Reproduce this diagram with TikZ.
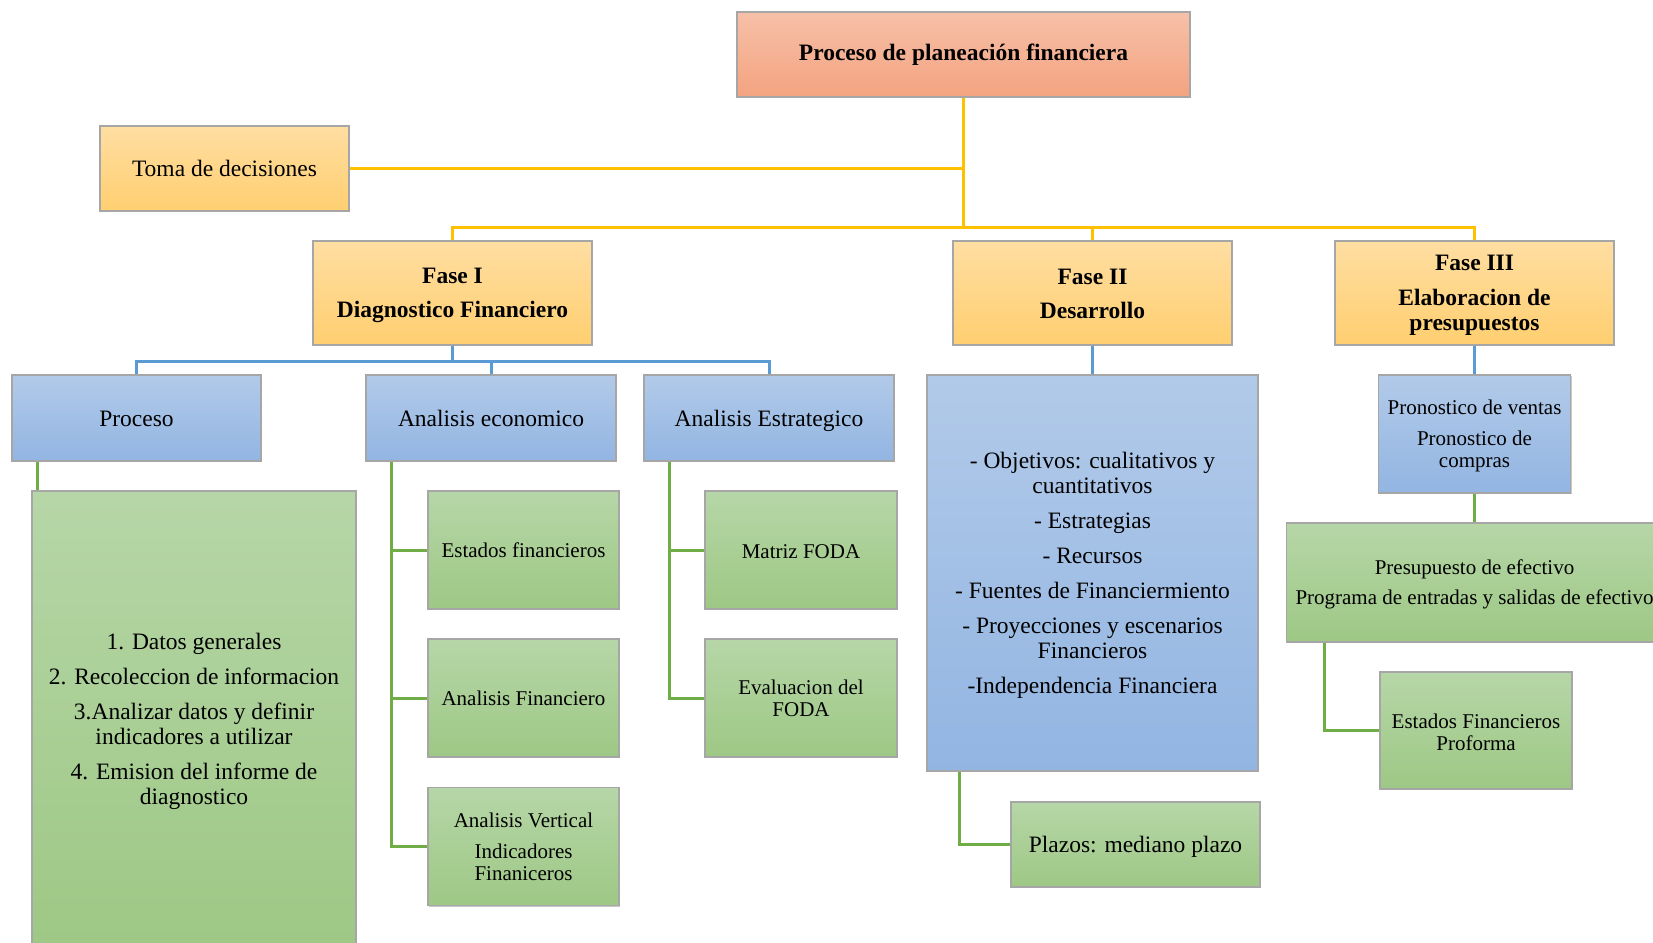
\documentclass[tikz,border=0pt]{standalone}
\usepackage{fontspec}
\setmainfont{Liberation Serif}
\usetikzlibrary{shadows}
\definecolor{ylTop}{RGB}{255,222,162}
\definecolor{ylBot}{RGB}{255,207,112}
\definecolor{orTop}{RGB}{246,192,168}
\definecolor{orBot}{RGB}{244,163,128}
\definecolor{buTop}{RGB}{178,202,233}
\definecolor{buBot}{RGB}{146,181,226}
\definecolor{grTop}{RGB}{182,214,167}
\definecolor{grBot}{RGB}{158,200,133}
\definecolor{lnYl}{RGB}{255,192,0}
\definecolor{lnBu}{RGB}{91,155,213}
\definecolor{lnGr}{RGB}{112,173,71}
\newcommand\lft[1]{\rule{0pt}{#1pt}}
\tikzset{
  box/.style={rectangle, draw=black!35, line width=1.3pt, inner sep=2pt, align=center,
    drop shadow={shadow xshift=1.2pt, shadow yshift=-1.2pt, opacity=0.3, fill=black!70}},
  orbox/.style={box, top color=orTop, bottom color=orBot},
  ylbox/.style={box, top color=ylTop, bottom color=ylBot},
  bubox/.style={box, top color=buTop, bottom color=buBot},
  grbox/.style={box, top color=grTop, bottom color=grBot},
  big/.style={font=\fontsize{23.5}{25}\selectfont},
  small/.style={font=\fontsize{21}{22}\selectfont},
  ylline/.style={draw=lnYl, line width=3pt},
  buline/.style={draw=lnBu, line width=3pt},
  grline/.style={draw=lnGr, line width=3pt},
}
\begin{document}
\begin{tikzpicture}[x=1pt,y=-1pt]
\clip (0,0) rectangle (1653,942);
\fill[white] (0,0) rectangle (1653,942);
\coordinate (busY) at (0,227);
\coordinate (busB) at (0,361);

\node[orbox, big, minimum width=453pt, minimum height=85pt] (top) at (963.5,54.5) {\textbf{Proceso de planeación financiera}};
\node[ylbox, big, minimum width=249pt, minimum height=85pt] (toma) at (224.5,168.5) {Toma de decisiones};

\node[ylbox, big, minimum width=279pt, minimum height=104pt] (f1) at (452.5,293) {\lft{21}\textbf{Fase I}\\[9pt]\textbf{Diagnostico Financiero}};
\node[ylbox, big, minimum width=279pt, minimum height=104pt] (f2) at (1092.5,293) {\lft{18}\textbf{Fase II}\\[9pt]\textbf{Desarrollo}};
\node[ylbox, big, minimum width=279pt, minimum height=104pt] (f3) at (1474.5,293) {\lft{20}\textbf{Fase III}\\[10pt]\textbf{Elaboracion de}\\\textbf{presupuestos}};

\node[bubox, big, minimum width=249pt, minimum height=86pt] (proc) at (136.5,418) {\lft{17.6}Proceso};
\node[bubox, big, minimum width=250pt, minimum height=86pt] (aecon) at (491,418) {Analisis economico};
\node[bubox, big, minimum width=250pt, minimum height=86pt] (aestr) at (769,418) {\lft{22}Analisis Estrategico};

\node[grbox, big, minimum width=324pt, minimum height=456pt] (pbox) at (194,719) {\lft{21}1. Datos generales\\[10pt]2. Recoleccion de informacion\\[10pt]3.Analizar datos y definir\\indicadores a utilizar\\[10pt]4. Emision del informe de\\diagnostico};

\node[grbox, small, minimum width=191pt, minimum height=118pt] (ef) at (523.5,550) {Estados financieros};
\node[grbox, small, minimum width=191pt, minimum height=118pt] (af) at (523.5,698) {Analisis Financiero};
\node[grbox, small, minimum width=191pt, minimum height=118pt] (av) at (523.5,846.5) {Analisis Vertical\\[9pt]Indicadores\\Finaniceros};

\node[grbox, small, minimum width=192pt, minimum height=118pt] (foda) at (801,550) {\lft{16.2}Matriz FODA};
\node[grbox, small, minimum width=192pt, minimum height=118pt] (evf) at (801,698) {Evaluacion del\\FODA};

\node[bubox, big, minimum width=331pt, minimum height=396pt] (f2box) at (1092.5,573) {\lft{20}- Objetivos: cualitativos y\\cuantitativos\\[10pt]- Estrategias\\[10pt]- Recursos\\[10pt]- Fuentes de Financiermiento\\[10pt]- Proyecciones y escenarios\\Financieros\\[10pt]-Independencia Financiera};
\node[grbox, big, minimum width=249pt, minimum height=85pt] (plazos) at (1135.5,844.5) {\lft{20}Plazos: mediano plazo};

\node[bubox, small, minimum width=192pt, minimum height=118pt] (pron) at (1474.5,434) {\lft{19.3}Pronostico de ventas\\[9pt]Pronostico de\\compras};
\node[grbox, small, minimum width=376pt, minimum height=119pt] (presup) at (1474.5,582.5) {\lft{19.3}Presupuesto de efectivo\\[8pt]Programa de entradas y salidas de efectivo};
\node[grbox, small, minimum width=192pt, minimum height=117pt] (efp) at (1476,730.5) {\lft{17.3}Estados Financieros\\Proforma};

% yellow connectors
\draw[ylline] (top.south) -- (top.south |- busY);
\draw[ylline] (toma.east) -- (toma.east -| top.south);
\draw[ylline] (f1.north) -- (f1.north |- busY) -- (f3.north |- busY) -- (f3.north);
\draw[ylline] (f2.north) -- (f2.north |- busY);

% blue connectors
\draw[buline] (f1.south) -- (f1.south |- busB);
\draw[buline] (proc.north) -- (proc.north |- busB) -- (aestr.north |- busB) -- (aestr.north);
\draw[buline] (aecon.north) -- (aecon.north |- busB);
\draw[buline] (f2.south) -- (f2box.north);
\draw[buline] (f3.south) -- (pron.north);

% green connectors
\coordinate (gP) at ([xshift=26pt]proc.south west);
\draw[grline] (gP) -- (gP |- pbox.north);
\coordinate (gE) at ([xshift=26pt]aecon.south west);
\draw[grline] (gE) |- (av.west);
\draw[grline] (gE |- ef.west) -- (ef.west);
\draw[grline] (gE |- af.west) -- (af.west);
\coordinate (gS) at ([xshift=26pt]aestr.south west);
\draw[grline] (gS) |- (evf.west);
\draw[grline] (gS |- foda.west) -- (foda.west);
\coordinate (gF) at ([xshift=33pt]f2box.south west);
\draw[grline] (gF) |- (plazos.west);
\draw[grline] (pron.south) -- (presup.north);
\coordinate (gR) at ([xshift=39pt]presup.south west);
\draw[grline] (gR) |- (efp.west);
\end{tikzpicture}
\end{document}
